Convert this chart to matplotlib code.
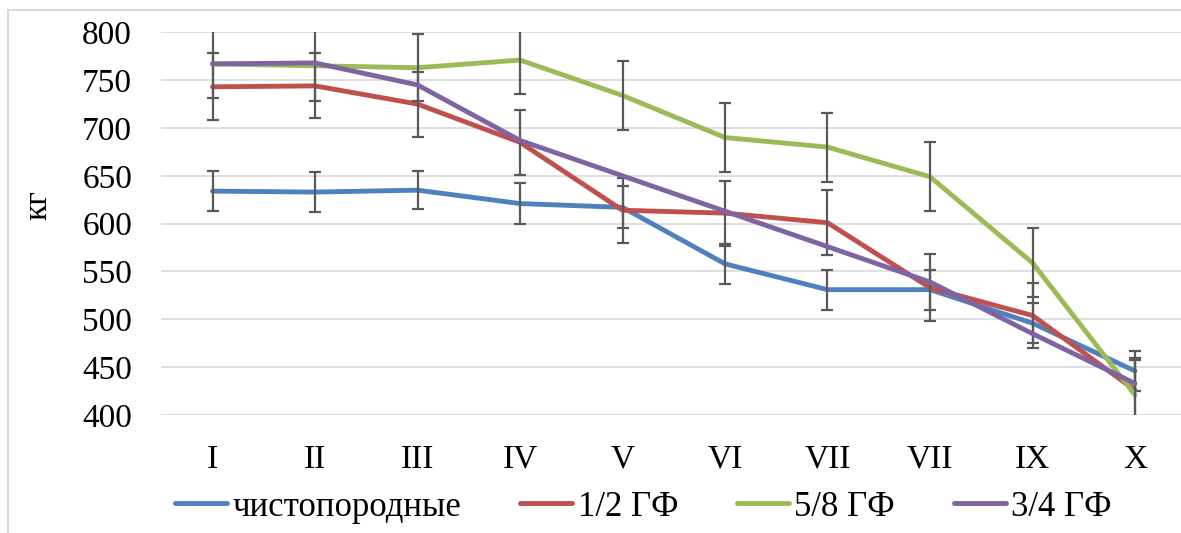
import matplotlib
matplotlib.use("Agg")
import matplotlib.pyplot as plt
from matplotlib.lines import Line2D

categories = ["I", "II", "III", "IV", "V", "VI", "VII", "VII", "IX", "X"]

series_names = ["чистопородные", "1/2 ГФ", "5/8 ГФ", "3/4 ГФ"]

pure = [634, 633, 635, 621, 617, 558, 531, 531, 496, 446]
half = [743, 744, 725, 685, 614, 611, 601, 533, 504, 426]
five_eighths = [767, 765, 763, 771, 734, 690, 680, 649, 559, 421]
three_quarters = [767, 768, 745, 687, 650, 613, 576, 539, 485, 433]

pure_err = [21, 21, 20, 21, 22, 21, 21, 21, 21, 21]
half_err = [35, 34, 34, 34, 34, 34, 34, 35, 34, 34]
five_eighths_err = [36, 37, 35, 36, 36, 36, 36, 36, 36, 36]

colors = ["#4F81BD", "#C0504D", "#9BBB59", "#8064A2"]

plt.rcParams['font.family'] = ['Liberation Serif', 'DejaVu Serif']

W, H = 1181, 533
fig = plt.figure(figsize=(W / 100, H / 100), dpi=100)
ax = fig.add_axes([161.25 / W, 1 - 415 / H, 1025 / W, 382.7 / H])

x = list(range(len(categories)))
values = [pure, half, five_eighths, three_quarters]
errors = [pure_err, half_err, five_eighths_err, None]

for i, (vals, err, col) in enumerate(zip(values, errors, colors)):
    ax.plot(x, vals, color=col, lw=3.5, solid_capstyle='round',
            solid_joinstyle='round', zorder=3 + i)
    if err is not None:
        ax.errorbar(x, vals, yerr=err, fmt='none', ecolor='#595959',
                    elinewidth=1.6, capsize=4.5, capthick=1.6,
                    zorder=3 + i + 0.5)

ax.set_xlim(-0.5, len(categories) - 0.5)
ax.set_ylim(400, 800)
ax.set_yticks(range(400, 801, 50))
ax.set_xticks(x)
ax.set_xticklabels(categories)
ax.tick_params(axis='both', length=0, labelsize=24, colors='black')
ax.tick_params(axis='x', pad=21)
ax.tick_params(axis='y', pad=21)
for s in ax.spines.values():
    s.set_visible(False)
ax.yaxis.grid(True, color='#d9d9d9', lw=1.2)
ax.set_axisbelow(True)

fig.text(38 / W, 1 - 205 / H, "кг", rotation=90, fontsize=24,
         ha='center', va='center')

# chart border (left and top visible)
fig.add_artist(Line2D([7.5 / W, 7.5 / W], [0, 1 - 10 / H],
                      transform=fig.transFigure, color='#d9d9d9', lw=1.5))
fig.add_artist(Line2D([7.5 / W, 1], [1 - 10 / H, 1 - 10 / H],
                      transform=fig.transFigure, color='#d9d9d9', lw=1.5))

handles = [Line2D([], [], color=c, lw=3.5, solid_capstyle='round') for c in colors]
fig.legend(handles, series_names, ncol=4, loc='center',
           bbox_to_anchor=(643.5 / W, 1 - 507 / H), frameon=False,
           fontsize=25, handlelength=1.5, handletextpad=0.15,
           columnspacing=1.7, borderaxespad=0, borderpad=0)

fig.savefig("out.png", dpi=100)
